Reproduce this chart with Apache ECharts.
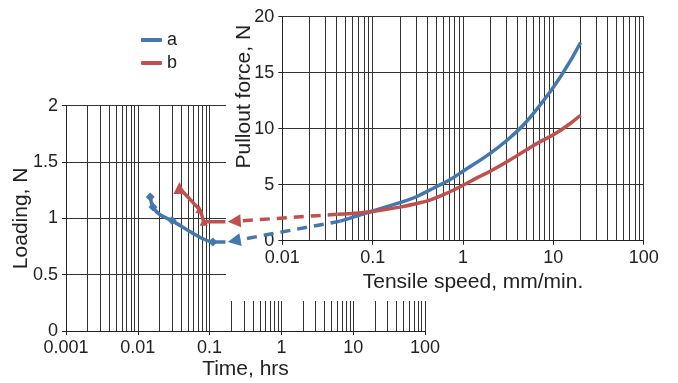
<!DOCTYPE html>
<html><head><meta charset="utf-8">
<script src="https://cdn.jsdelivr.net/npm/echarts@6/dist/echarts.min.js"></script>
<style>html,body{margin:0;padding:0;background:#fff}#c{width:678px;height:383px}</style>
</head><body><div id="c"></div>
<script>
// ---- data ----
const seriesNames = ['a', 'b'];
// left chart: Loading (N) vs Time (hrs)
const leftTimeA = [0.0149, 0.0163, 0.0206, 0.030, 0.054, 0.074, 0.111, 0.166];
const leftLoadA = [1.19, 1.10, 1.03, 0.98, 0.88, 0.83, 0.79, 0.79];
const leftMarkA = [1, 1, 0, 1, 0, 0, 1, 0];
const leftTimeB = [0.038, 0.072, 0.077, 0.0826, 0.166];
const leftLoadB = [1.27, 1.08, 1.04, 0.97, 0.97];
const leftMarkB = [1, 1, 0, 1, 0];
// right chart: Pullout force (N) vs Tensile speed (mm/min)
const rightSpeedA = [0.044, 0.078, 0.1, 0.2, 0.3, 0.5, 0.7, 1, 2, 3, 5, 10, 15, 20];
const rightForceA = [1.75, 2.38, 2.65, 3.4, 3.9, 4.8, 5.4, 6.2, 7.8, 8.9, 10.6, 13.7, 15.9, 17.7];
const rightSpeedB = [0.041, 0.07, 0.1, 0.2, 0.3, 0.43, 0.6, 0.8, 1, 1.5, 2, 3, 5, 7, 10, 15, 20];
const rightForceB = [2.36, 2.48, 2.6, 3.0, 3.3, 3.63, 4.1, 4.55, 4.95, 5.7, 6.2, 7.0, 8.1, 8.8, 9.45, 10.4, 11.2];
// dashed arrows: start on right chart curve, tip on left chart
const arrowStartA = [0.044, 1.75], arrowTipA = [0.179, 0.79];
const arrowStartB = [0.041, 2.36], arrowTipB = [0.179, 0.97];
// ticks
const leftXTicks = [0.001, 0.01, 0.1, 1, 10, 100];
const leftXLabels = ['0.001', '0.01', '0.1', '1', '10', '100'];
const rightXTicks = [0.01, 0.1, 1, 10, 100];
const rightXLabels = ['0.01', '0.1', '1', '10', '100'];
const leftYLabels = ['0', '0.5', '1', '1.5', '2'];
const rightYLabels = ['0', '5', '10', '15', '20'];

const BLUE = '#4477ad', RED = '#c0504d', GRID = '#333', TXT = '#222';
const FONT = '"Liberation Sans", Arial, sans-serif';

function minors(lo, hi) {
  const out = [];
  const d0 = Math.round(Math.log10(lo)), d1 = Math.round(Math.log10(hi));
  for (let d = d0; d < d1; d++) {
    for (let k = 2; k <= 9; k++) out.push(+(k * Math.pow(10, d)).toPrecision(3));
  }
  return out;
}
function labelFor(ticks, labels) {
  return v => {
    let best = 0, bd = Infinity;
    ticks.forEach((t, i) => { const d = Math.abs(Math.log10(t) - Math.log10(v)); if (d < bd) { bd = d; best = i; } });
    return bd < 0.01 ? labels[best] : '';
  };
}
function vlines(vals, zl) {
  return {
    silent: true, symbol: 'none', label: { show: false }, precision: 12,
    zlevel: zl, z: 2,
    lineStyle: { color: GRID, width: 1, type: 'solid' },
    emphasis: { disabled: true },
    animation: false,
    data: vals.map(v => ({ xAxis: v }))
  };
}
function zip(xs, ys) { return xs.map((x, i) => [x, ys[i]]); }

const axisCommon = {
  nameMoveOverlap: false,
  axisLine: { show: true, onZero: false, lineStyle: { color: TXT, width: 1 } },
  axisTick: { show: true, inside: false, length: 4, lineStyle: { color: TXT } },
  axisLabel: { fontSize: 18, color: TXT, fontFamily: FONT, margin: 8 },
  splitLine: { show: true, lineStyle: { color: GRID, width: 1 } },
  nameTextStyle: { fontSize: 21, color: TXT, fontFamily: FONT }
};

const chart = echarts.init(document.getElementById('c'), null, { renderer: 'canvas' });
const option = {
  animation: false,
  backgroundColor: '#fff',
  textStyle: { fontFamily: FONT },
  grid: [
    { left: 66, top: 105.7, width: 359, height: 225.3, show: false, containLabel: false, outerBoundsMode: 'none' },
    { left: 282.3, top: 16.7, width: 361.4, height: 224, show: false, zlevel: 1, z: 3, containLabel: false, outerBoundsMode: 'none' }
  ],
  legend: {
    orient: 'vertical', left: 136, top: 26, itemWidth: 21, itemHeight: 4, itemGap: 5,
    icon: 'roundRect', data: seriesNames, zlevel: 2,
    textStyle: { fontSize: 18, color: TXT, fontFamily: FONT },
    selectedMode: false
  },
  xAxis: [
    Object.assign({}, axisCommon, {
      gridIndex: 0, type: 'log', logBase: 10, min: 0.001, max: 100,
      name: 'Time, hrs', nameLocation: 'middle', nameGap: 28,
      axisLabel: Object.assign({}, axisCommon.axisLabel, { formatter: labelFor(leftXTicks, leftXLabels) })
    }),
    Object.assign({}, axisCommon, {
      gridIndex: 1, type: 'log', logBase: 10, min: 0.01, max: 100, zlevel: 1, z: 3,
      name: 'Tensile speed, mm/min.', nameLocation: 'middle', nameGap: 31,
      nameTextStyle: Object.assign({}, axisCommon.nameTextStyle, { padding: [0, 0, 0, 20] }),
      axisLabel: Object.assign({}, axisCommon.axisLabel, { formatter: labelFor(rightXTicks, rightXLabels) })
    })
  ],
  yAxis: [
    Object.assign({}, axisCommon, {
      gridIndex: 0, type: 'value', min: 0, max: 2, interval: 0.5,
      name: 'Loading, N', nameLocation: 'middle', nameGap: 34,
      axisLabel: Object.assign({}, axisCommon.axisLabel, { formatter: v => leftYLabels[Math.round(v / 0.5)] })
    }),
    Object.assign({}, axisCommon, {
      gridIndex: 1, type: 'value', min: 0, max: 20, interval: 5, zlevel: 1, z: 3,
      name: 'Pullout force, N', nameLocation: 'middle', nameGap: 28,
      nameTextStyle: Object.assign({}, axisCommon.nameTextStyle, { padding: [0, 0, 0, 64] }),
      axisLabel: Object.assign({}, axisCommon.axisLabel, { formatter: v => rightYLabels[Math.round(v / 5)] })
    })
  ],
  graphic: [
    { id: 'cover', type: 'rect', zlevel: 1, z: 1, silent: true,
      shape: { x: 226, y: 0, width: 452, height: 301 }, style: { fill: '#fff' } }
  ],
  series: [
    { name: seriesNames[0], type: 'line', xAxisIndex: 0, yAxisIndex: 0, z: 4,
      data: leftTimeA.map((t, i) => ({ value: [t, leftLoadA[i]], symbol: leftMarkA[i] ? 'diamond' : 'none' })),
      symbolSize: 9, showAllSymbol: true, color: BLUE, smooth: 0.3,
      lineStyle: { color: BLUE, width: 3.5 }, itemStyle: { color: BLUE },
      markLine: vlines(minors(0.001, 100).concat([100]), 0) },
    { name: seriesNames[1], type: 'line', xAxisIndex: 0, yAxisIndex: 0, z: 4,
      data: leftTimeB.map((t, i) => ({ value: [t, leftLoadB[i]], symbol: leftMarkB[i] ? 'triangle' : 'none', symbolSize: i === 0 ? 12 : 8 })),
      showAllSymbol: true, color: RED,
      lineStyle: { color: RED, width: 3.5 }, itemStyle: { color: RED } },
    { name: seriesNames[0], type: 'line', xAxisIndex: 1, yAxisIndex: 1, zlevel: 1, z: 5,
      data: zip(rightSpeedA, rightForceA), showSymbol: false, smooth: 0.4, color: BLUE,
      lineStyle: { color: BLUE, width: 3.5 },
      markLine: vlines(minors(0.01, 100).concat([100]), 1) },
    { name: seriesNames[1], type: 'line', xAxisIndex: 1, yAxisIndex: 1, zlevel: 1, z: 5,
      data: zip(rightSpeedB, rightForceB), showSymbol: false, smooth: 0.4, color: RED,
      lineStyle: { color: RED, width: 3.5 } }
  ]
};
chart.setOption(option);

function arrow(id, start, tip, color) {
  const p0 = chart.convertToPixel({ gridIndex: 1 }, start);
  const p1 = chart.convertToPixel({ gridIndex: 0 }, tip);
  const dx = p1[0] - p0[0], dy = p1[1] - p0[1];
  const L = Math.hypot(dx, dy), ux = dx / L, uy = dy / L;
  const head = 13, half = 6.5;
  const base = [p1[0] - ux * head, p1[1] - uy * head];
  return [
    { id: id + 'l', type: 'line', zlevel: 2, silent: true,
      shape: { x1: p0[0], y1: p0[1], x2: base[0] + ux * 2, y2: base[1] + uy * 2 },
      style: { stroke: color, lineWidth: 3.5, lineDash: [10, 7] } },
    { id: id + 'h', type: 'polygon', zlevel: 2, silent: true,
      shape: { points: [p1, [base[0] - uy * half, base[1] + ux * half], [base[0] + uy * half, base[1] - ux * half]] },
      style: { fill: color } }
  ];
}
chart.setOption({
  graphic: [].concat(arrow('ab', arrowStartB, arrowTipB, RED), arrow('aa', arrowStartA, arrowTipA, BLUE))
});
</script></body></html>
